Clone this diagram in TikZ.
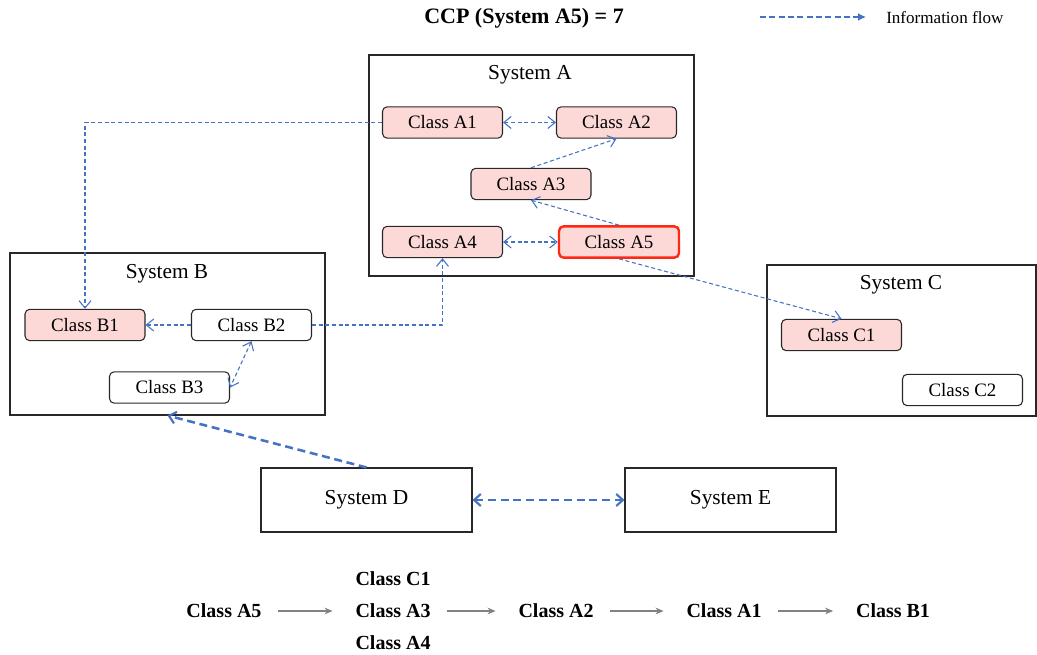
\documentclass[tikz,border=0pt]{standalone}
\usepackage{fontspec}
\setmainfont{Liberation Serif}
\usetikzlibrary{arrows.meta,calc}
\definecolor{flowblue}{RGB}{68,114,196}
\definecolor{classpink}{RGB}{252,217,215}
\definecolor{boxline}{RGB}{40,40,40}
\definecolor{hotred}{RGB}{255,40,20}
\definecolor{chaingray}{RGB}{130,130,130}
\newcommand{\classfont}{\fontsize{14.2pt}{16pt}\selectfont}
\newcommand{\sysfont}{\fontsize{16pt}{18pt}\selectfont}
\tikzset{
  sysbox/.style={draw=boxline, line width=0.8pt, fill=white, inner sep=0pt},
  syslabel/.style={font=\sysfont, inner sep=0pt},
  classbox/.style={draw=boxline, line width=0.8pt, rounded corners=3.5pt, minimum width=90pt, minimum height=23.5pt, inner sep=0pt, font=\classfont},
  pinkbox/.style={classbox, fill=classpink},
  whitebox/.style={classbox, fill=white},
  flow/.style={draw=flowblue, line width=0.8pt, dash pattern=on 3pt off 2pt, -{Straight Barb[length=5.5pt,width=9pt,line width=0.8pt]}},
  biflow/.style={flow, {Straight Barb[length=5.5pt,width=9pt,line width=0.8pt]}-{Straight Barb[length=5.5pt,width=9pt,line width=0.8pt]}},
  bigflow/.style={draw=flowblue, line width=1.9pt, dash pattern=on 6pt off 3.5pt, -{Straight Barb[length=5pt,width=9pt,line width=1.6pt]}},
  bigbiflow/.style={bigflow, {Straight Barb[length=5pt,width=9pt,line width=1.6pt]}-{Straight Barb[length=5pt,width=9pt,line width=1.6pt]}},
  chain/.style={font=\bfseries\fontsize{15pt}{17pt}\selectfont, inner sep=0pt},
  chainarrow/.style={draw=chaingray, line width=0.8pt, -{Stealth[length=6pt,width=5pt]}}
}
\begin{document}
\begin{tikzpicture}[x=0.75pt,y=-0.75pt]
\useasboundingbox (0,0) rectangle (1037,655);
% title and legend
\node[font=\bfseries\fontsize{16.5pt}{19pt}\selectfont, inner sep=0pt] (title) at (524,18) {CCP (System A5) = 7};
\coordinate (legA) at (760,17);
\coordinate (legB) at (866,17);
\draw[draw=flowblue, line width=1.4pt, dash pattern=on 4.5pt off 2.5pt, -{Latex[length=6pt,width=6pt]}] (legA) -- (legB);
\node[font=\fontsize{12.8pt}{15pt}\selectfont, anchor=west, inner sep=0pt] (legtext) at (886,18) {Information flow};

% systems
\node[sysbox, minimum width=243.75pt, minimum height=165.75pt] (SA) at (531.5,165.5) {};
\node[syslabel] (SAl) at (530,75) {System A};
\node[sysbox, minimum width=236.25pt, minimum height=121.5pt] (SB) at (167.5,334) {};
\node[syslabel] (SBl) at (167,274) {System B};
\node[sysbox, minimum width=201.75pt, minimum height=113.25pt] (SC) at (901.5,340.5) {};
\node[syslabel] (SCl) at (901,285) {System C};
\node[sysbox, minimum width=158.25pt, minimum height=48pt, font=\sysfont] (SD) at (366.5,500) {System D};
\node[sysbox, minimum width=158.25pt, minimum height=48pt, font=\sysfont] (SE) at (730.5,500) {System E};

% classes
\node[pinkbox] (A1) at (442.5,122.5) {Class A1};
\node[pinkbox] (A2) at (616.5,122.5) {Class A2};
\node[pinkbox] (A3) at (531,184) {Class A3};
\node[pinkbox] (A4) at (442.5,242) {Class A4};
\node[pinkbox, draw=hotred, line width=1.8pt, minimum width=90pt] (A5) at (619,242) {Class A5};
\node[pinkbox] (B1) at (85,325) {Class B1};
\node[whitebox] (B2) at (251.5,325) {Class B2};
\node[whitebox] (B3) at (169.5,387.5) {Class B3};
\node[pinkbox] (C1) at (841.5,335) {Class C1};
\node[whitebox] (C2) at (962.5,390) {Class C2};

% information flows
\draw[biflow] (A1.east) -- (A2.west);
\draw[flow] (A3.north) -- (A2.south);
\draw[flow] (A5.north) -- (A3.south);
\draw[biflow] (A4.east) -- (A5.west);
\draw[flow] (A1.west) -| (B1.north);
\draw[flow] (B2.west) -- (B1.east);
\draw[flow] (B2.east) -| (A4.south);
\draw[biflow] (B2.south) -- (B3.east);
\draw[flow] (A5.south) -- (C1.north);
\draw[bigflow] (SD.north) -- (SB.south);
\draw[bigbiflow] (SD.east) -- (SE.west);

% propagation chain
\node[chain] (cA5) at (224,611) {Class A5};
\node[chain] (cA3) at (393,611) {Class A3};
\node[chain] (cC1) at (393,579) {Class C1};
\node[chain] (cA4) at (393,643) {Class A4};
\node[chain] (cA2) at (556,611) {Class A2};
\node[chain] (cA1) at (724,611) {Class A1};
\node[chain] (cB1) at (893,611) {Class B1};
\draw[chainarrow, shorten <=12pt, shorten >=17pt] (cA5.east) -- (cA3.west);
\draw[chainarrow, shorten <=12pt, shorten >=17pt] (cA3.east) -- (cA2.west);
\draw[chainarrow, shorten <=12pt, shorten >=17pt] (cA2.east) -- (cA1.west);
\draw[chainarrow, shorten <=12pt, shorten >=17pt] (cA1.east) -- (cB1.west);
\end{tikzpicture}
\end{document}
